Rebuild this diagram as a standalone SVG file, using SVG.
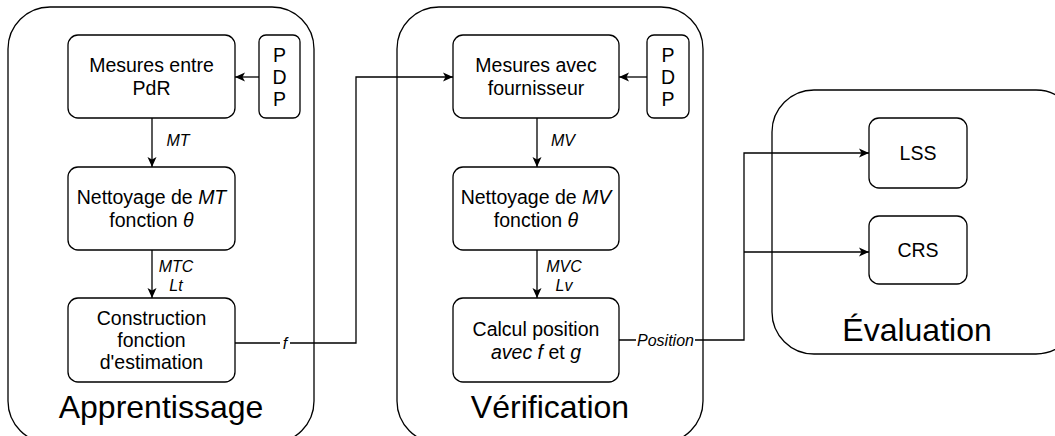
<svg xmlns="http://www.w3.org/2000/svg" width="1055" height="436" viewBox="0 0 1055 436">
<defs>
<style>
.c{fill:#fff;stroke:#000;stroke-width:1.3}
.b{fill:#fff;stroke:#000;stroke-width:1.3}
.t{font-family:"Liberation Sans",Arial,sans-serif;font-size:19.5px;fill:#000;text-anchor:middle}
.big{font-family:"Liberation Sans",Arial,sans-serif;font-size:32px;fill:#000;text-anchor:middle}
.l{font-family:"Liberation Sans",Arial,sans-serif;font-size:16px;font-style:italic;fill:#000;text-anchor:middle}
.e{fill:none;stroke:#000;stroke-width:1.3}
</style>
<marker id="a" markerWidth="11" markerHeight="10" refX="10" refY="5" orient="auto" markerUnits="userSpaceOnUse">
<path d="M0,0.5 L10,5 L0,9.5 L2.5,5 Z" fill="#000"/>
</marker>
</defs>
<g id="apprentissage">
<rect class="c" x="8" y="7" width="306" height="436" rx="42" ry="42"/>
<text class="big" x="161" y="418">Apprentissage</text>
</g>
<g id="verification">
<rect class="c" x="397" y="7" width="306" height="436" rx="42" ry="42"/>
<text class="big" x="550" y="418">Vérification</text>
</g>
<g id="evaluation">
<rect class="c" x="772" y="90" width="306" height="264" rx="42" ry="42"/>
<text class="big" x="917" y="341">Évaluation</text>
</g>
<g id="mesures-pdr">
<rect class="b" x="68" y="35" width="167" height="83" rx="10" ry="10"/>
<text class="t" x="151.5" y="72">Mesures entre</text>
<text class="t" x="151.5" y="95">PdR</text>
</g>
<g id="pdp1">
<rect class="b" x="259" y="35" width="41" height="83" rx="7" ry="7"/>
<text class="t" x="279.5" y="62">P</text>
<text class="t" x="279.5" y="84">D</text>
<text class="t" x="279.5" y="106">P</text>
</g>
<g id="nettoyage-mt">
<rect class="b" x="68" y="167" width="167" height="83" rx="10" ry="10"/>
<text class="t" x="151.5" y="204">Nettoyage de <tspan font-style="italic">MT</tspan></text>
<text class="t" x="151.5" y="227">fonction <tspan font-style="italic">θ</tspan></text>
</g>
<g id="construction">
<rect class="b" x="68" y="298" width="167" height="84" rx="10" ry="10"/>
<text class="t" x="151.5" y="325">Construction</text>
<text class="t" x="151.5" y="347">fonction</text>
<text class="t" x="151.5" y="369">d'estimation</text>
</g>
<g id="mesures-fournisseur">
<rect class="b" x="453" y="35" width="166" height="83" rx="10" ry="10"/>
<text class="t" x="536" y="72">Mesures avec</text>
<text class="t" x="536" y="95">fournisseur</text>
</g>
<g id="pdp2">
<rect class="b" x="647" y="35" width="42" height="83" rx="7" ry="7"/>
<text class="t" x="668" y="62">P</text>
<text class="t" x="668" y="84">D</text>
<text class="t" x="668" y="106">P</text>
</g>
<g id="nettoyage-mv">
<rect class="b" x="453" y="167" width="166" height="83" rx="10" ry="10"/>
<text class="t" x="536" y="204">Nettoyage de <tspan font-style="italic">MV</tspan></text>
<text class="t" x="536" y="227">fonction <tspan font-style="italic">θ</tspan></text>
</g>
<g id="calcul">
<rect class="b" x="453" y="298" width="166" height="84" rx="10" ry="10"/>
<text class="t" x="536" y="336">Calcul position</text>
<text class="t" x="536" y="359"><tspan font-style="italic">avec f</tspan> et <tspan font-style="italic">g</tspan></text>
</g>
<g id="lss">
<rect class="b" x="869" y="118" width="98" height="70" rx="10" ry="10"/>
<text class="t" x="918" y="160">LSS</text>
</g>
<g id="crs">
<rect class="b" x="869" y="216" width="98" height="68" rx="10" ry="10"/>
<text class="t" x="918" y="257">CRS</text>
</g>
<g id="connectors">
<line class="e" x1="259" y1="77" x2="235" y2="77" marker-end="url(#a)"/>
<line class="e" x1="152" y1="118" x2="152" y2="167" marker-end="url(#a)"/>
<text class="l" x="178" y="146">MT</text>
<line class="e" x1="152" y1="250" x2="152" y2="298" marker-end="url(#a)"/>
<text class="l" x="176" y="272">MTC</text>
<text class="l" x="176" y="291">Lt</text>
<polyline class="e" points="235,343 356,343 356,77 453,77" marker-end="url(#a)"/>
<rect x="280" y="333" width="10" height="20" fill="#fff"/>
<text class="l" x="285" y="349">f</text>
<line class="e" x1="647" y1="77" x2="619" y2="77" marker-end="url(#a)"/>
<line class="e" x1="537" y1="118" x2="537" y2="167" marker-end="url(#a)"/>
<text class="l" x="563" y="146">MV</text>
<line class="e" x1="537" y1="250" x2="537" y2="298" marker-end="url(#a)"/>
<text class="l" x="564" y="272">MVC</text>
<text class="l" x="564" y="291">Lv</text>
<polyline class="e" points="619,340 744,340 744,153 869,153" marker-end="url(#a)"/>
<polyline class="e" points="744,252 869,252" marker-end="url(#a)"/>
<rect x="636" y="330" width="59" height="20" fill="#fff"/>
<text class="l" x="665.5" y="346">Position</text>
</g>
</svg>
